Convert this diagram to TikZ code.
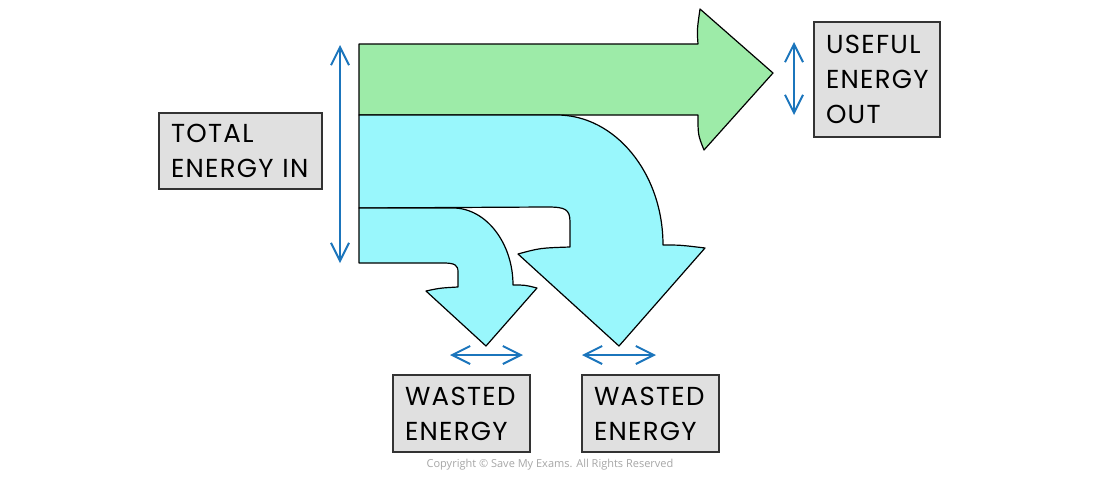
\documentclass[tikz,border=0pt]{standalone}
\usepackage{fontspec}
\setmainfont[LetterSpace=5]{Poppins}
\newfontfamily\copyfont{Open Sans}
\usepackage{tikz}
\usetikzlibrary{arrows.meta}
\definecolor{usefulgreen}{HTML}{9DEBA8}
\definecolor{wastecyan}{HTML}{99F7FC}
\definecolor{boxgrey}{HTML}{E0E0E0}
\definecolor{arrowblue}{HTML}{1B75BC}

\begin{document}
\begin{tikzpicture}[x=0.5pt, y=-0.5pt,
    labelbox/.style={draw=black!80, fill=boxgrey, line width=0.6pt, align=left,
      inner xsep=6pt, font=\fontsize{13}{17.5}\selectfont},
    measure/.style={draw=arrowblue, line width=1pt,
      {Straight Barb[length=9pt,width=9pt]}-{Straight Barb[length=9pt,width=9pt]}},
    band/.style={draw=black, line width=0.6pt, line join=round}]
      \useasboundingbox (0,0) rectangle (1100,477);

      \draw [band, fill=usefulgreen] (359,44) -- (698,44) .. controls (697,30) .. (700,9)
        -- (773,73) -- (704,150) .. controls (698,135) .. (698,115) -- (359,115) -- cycle;
      \draw [band, fill=wastecyan] (359,115) -- (557,115) .. controls (615,115) and (663,173) .. (663,245)
        .. controls (680,245) .. (705,248) -- (619,346) -- (518,254) .. controls (540,248) .. (570,247)
        -- (570,222) .. controls (570,209) and (565,207) .. (547,207) -- (359,208) -- cycle;
      \draw [band, fill=wastecyan] (359,208) -- (453,208) .. controls (486,208) and (513,243) .. (513,285)
        .. controls (525,285) .. (537,288) -- (486,346) -- (426,291) .. controls (440,288) .. (458,287)
        -- (458,272) .. controls (458,265) and (455,263) .. (443,263) -- (359,263) -- cycle;

      \node [labelbox, text width=69.5pt, minimum height=38pt] (total) at (240.5,151) {TOTAL\\ENERGY IN};
      \node [labelbox, text width=51pt, minimum height=57.5pt] (useful) at (877,79.5) {USEFUL\\ENERGY\\OUT};
      \node [labelbox, text width=56.5pt, minimum height=38.5pt] (waste1) at (461.5,413.5) {WASTED\\ENERGY};
      \node [labelbox, text width=56.5pt, minimum height=38.5pt] (waste2) at (650.5,413.5) {WASTED\\ENERGY};
      \node [font=\copyfont\fontsize{5.5}{6}\selectfont, text=black!35] (copy) at (550,465)
        {Copyright \textcopyright\ Save My Exams. All Rights Reserved};

      \coordinate (in1) at (340,45);
      \coordinate (in2) at (340,263);
      \coordinate (out1) at (794,42);
      \coordinate (out2) at (794,115);
      \coordinate (w1a) at (450,355);
      \coordinate (w1b) at (523,355);
      \coordinate (w2a) at (582,355);
      \coordinate (w2b) at (656,355);

      \draw [measure] (in1) -- (in2);
      \draw [measure] (out1) -- (out2);
      \draw [measure] (w1a) -- (w1b);
      \draw [measure] (w2a) -- (w2b);
    \end{tikzpicture}
\end{document}
